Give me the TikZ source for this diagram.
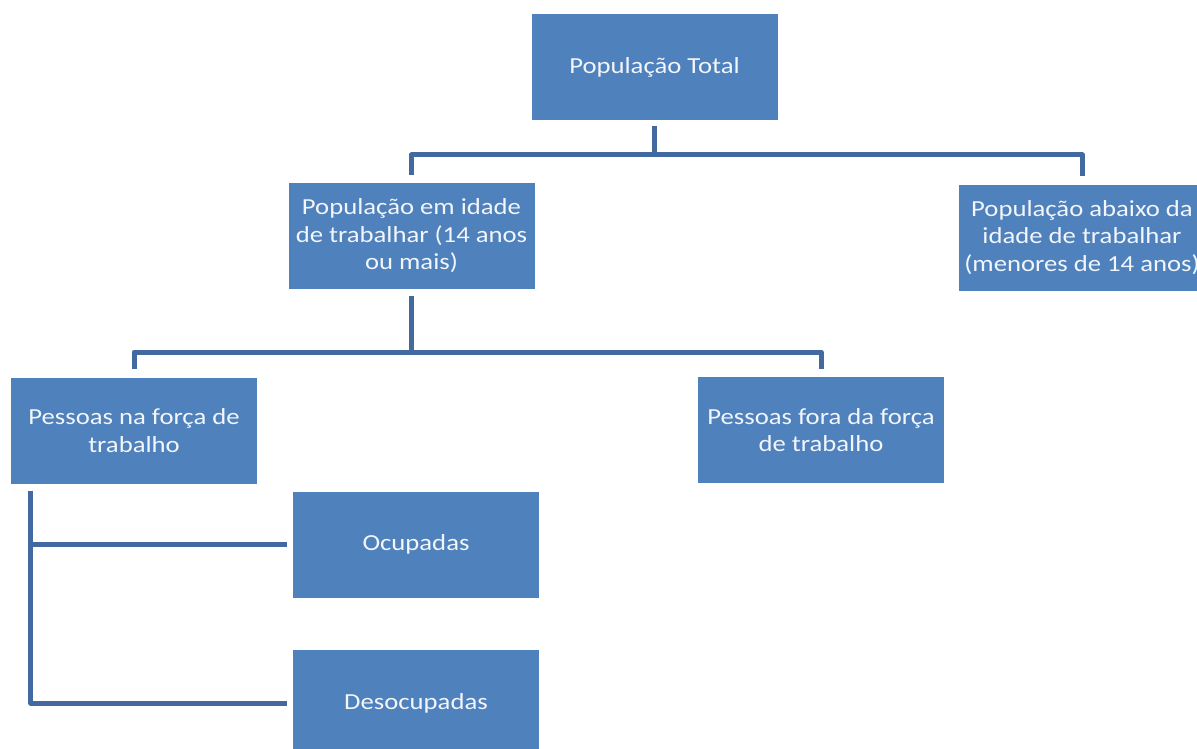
\documentclass[tikz,border=0pt]{standalone}
\usepackage{fontspec}
\setmainfont{Carlito}[FakeStretch=1.16]
\definecolor{boxblue}{RGB}{79,129,189}
\definecolor{linkblue}{RGB}{66,106,160}
\definecolor{txt}{RGB}{242,245,250}
\begin{document}
\begin{tikzpicture}[x=1pt,y=-1pt,
  box/.style={fill=boxblue,draw=none,minimum width=246pt,minimum height=106pt,
    inner sep=0pt,align=center,text=txt,
    font=\fontsize{23pt}{27.5pt}\selectfont},
  conn/.style={draw=linkblue,line width=5pt,line join=round,line cap=butt}]
\useasboundingbox (0,0) rectangle (1197,749);
\begin{scope}
\clip (0,0) rectangle (1197,749);
\node[box] (top) at (654.5,67) {População Total};
\node[box] (mid) at (411.5,236) {População em idade\\de trabalhar (14 anos\\ou mais)};
\node[box] (rightb) at (1082,237.5) {População abaixo da\\idade de trabalhar\\(menores de 14 anos)};
\node[box] (forca) at (134,430.5) {Pessoas na força de\\trabalho};
\node[box] (fora) at (821,430) {Pessoas fora da força\\de trabalho};
\node[box] (ocup) at (416,544.5) {Ocupadas};
\node[box] (desoc) at (416,703) {Desocupadas};
\end{scope}
\coordinate (bus1) at (654.5,155);
\coordinate (bus2) at (411.5,352);
\coordinate (c3) at ([xshift=20pt,yshift=-7pt]forca.south west);
\draw[conn] ([yshift=-6pt]top.south) -- (top.south |- bus1);
\draw[conn] ([yshift=8pt]mid.north) |- (bus1) -| ([yshift=8pt]rightb.north);
\draw[conn] ([yshift=-7pt]mid.south) -- (mid.south |- bus2);
\draw[conn] ([yshift=8pt]forca.north) |- (bus2) -| ([yshift=8pt]fora.north);
\draw[conn] (c3) |- ([xshift=-6pt]desoc.west);
\draw[conn] (c3 |- ocup.west) -- ([xshift=-6pt]ocup.west);
\end{tikzpicture}
\end{document}
